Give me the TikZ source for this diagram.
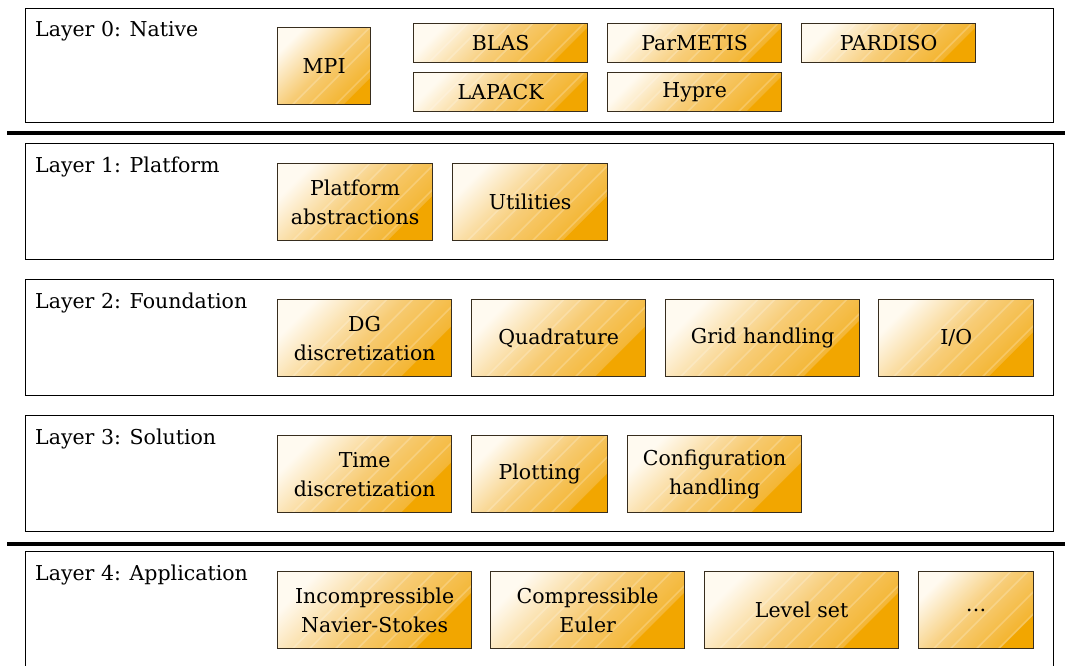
\documentclass[tikz,border=0pt]{standalone}
\usepackage{fontspec}
\setmainfont{DejaVu Serif}
\usetikzlibrary{calc}
\definecolor{orng}{RGB}{242,166,0}
\definecolor{orngmid}{RGB}{247,204,118}
\definecolor{orngend}{RGB}{243,178,40}
\definecolor{orngstart}{RGB}{255,250,240}
\definecolor{boxline}{RGB}{55,45,30}
\tikzset{
  ob/.style={draw=boxline, line width=1.3pt, anchor=north west, align=center,
    font=\fontsize{20.5}{29}\selectfont, inner sep=0pt,
    top color=orngstart, bottom color=orngend, middle color=orngmid, shading angle=45,
    path picture={
      \foreach \d in {15,32,58,80,104,131,160,185} {
        \draw[white, opacity=0.22, line width=1.6pt]
          ($(path picture bounding box.south west)+(\d pt,0)$) -- ++(120pt,120pt);
      }
      \fill[orng] let \p1=($(path picture bounding box.north east)-(path picture bounding box.south west)$),
        \n1={min(0.29*\x1,0.9*\y1)} in
        (path picture bounding box.south east) -- ++(-\n1,0) -- ++(\n1,\n1) -- cycle;
    }},
  layerbox/.style={draw=black, line width=1pt, anchor=north west, minimum width=1028, inner sep=0pt},
  layerlabel/.style={anchor=base west, inner sep=0pt, font=\fontsize{20.5}{26}\selectfont},
  sep/.style={line width=4pt, black}
}
\begin{document}
\begin{tikzpicture}[x=1pt,y=-1pt]
\useasboundingbox (0,0) rectangle (1065,666);
% layer frames
\node[layerbox, minimum height=114] (L0) at (25,8) {};
\node[layerbox, minimum height=116] (L1) at (25,143) {};
\node[layerbox, minimum height=116] (L2) at (25,279) {};
\node[layerbox, minimum height=116] (L3) at (25,415) {};
\node[layerbox, minimum height=140] (L4) at (25,551) {};
\node[layerlabel] (t0) at (35,37) {Layer 0: Native};
\node[layerlabel] (t1) at (35,172) {Layer 1: Platform};
\node[layerlabel] (t2) at (35,308) {Layer 2: Foundation};
\node[layerlabel] (t3) at (35,444) {Layer 3: Solution};
\node[layerlabel] (t4) at (35,580) {Layer 4: Application};
% separators
\coordinate (s0a) at (7,133); \coordinate (s0b) at (1070,133);
\coordinate (s1a) at (7,544); \coordinate (s1b) at (1070,544);
\draw[sep] (s0a) -- (s0b);
\draw[sep] (s1a) -- (s1b);
% layer 0
\node[ob, minimum width=93, minimum height=77] (mpi) at (277,27) {MPI};
\node[ob, minimum width=174, minimum height=39] (blas) at (413,23) {BLAS};
\node[ob, minimum width=174, minimum height=39] (lapack) at (413,72) {LAPACK};
\node[ob, minimum width=174, minimum height=39] (parmetis) at (607,23) {ParMETIS};
\node[ob, minimum width=174, minimum height=39] (hypre) at (607,72) {Hypre};
\node[ob, minimum width=174, minimum height=39] (pardiso) at (801,23) {PARDISO};
% layer 1
\node[ob, minimum width=155, minimum height=77] (pa) at (277,163) {Platform\\abstractions};
\node[ob, minimum width=155, minimum height=77] (util) at (452,163) {Utilities};
% layer 2
\node[ob, minimum width=174, minimum height=77] (dg) at (277,299) {DG\\discretization};
\node[ob, minimum width=174, minimum height=77] (quad) at (471,299) {Quadrature};
\node[ob, minimum width=194, minimum height=77] (grid) at (665,299) {Grid handling};
\node[ob, minimum width=155, minimum height=77] (io) at (878,299) {I/O};
% layer 3
\node[ob, minimum width=174, minimum height=77] (time) at (277,435) {Time\\discretization};
\node[ob, minimum width=136, minimum height=77] (plot) at (471,435) {Plotting};
\node[ob, minimum width=174, minimum height=77] (conf) at (627,435) {Configuration\\handling};
% layer 4
\node[ob, minimum width=194, minimum height=77] (inc) at (277,571) {Incompressible\\Navier-Stokes};
\node[ob, minimum width=194, minimum height=77] (comp) at (490,571) {Compressible\\Euler};
\node[ob, minimum width=194, minimum height=77] (ls) at (704,571) {Level set};
\node[ob, minimum width=115, minimum height=77] (more) at (918,571) {\ldots};
\end{tikzpicture}
\end{document}
